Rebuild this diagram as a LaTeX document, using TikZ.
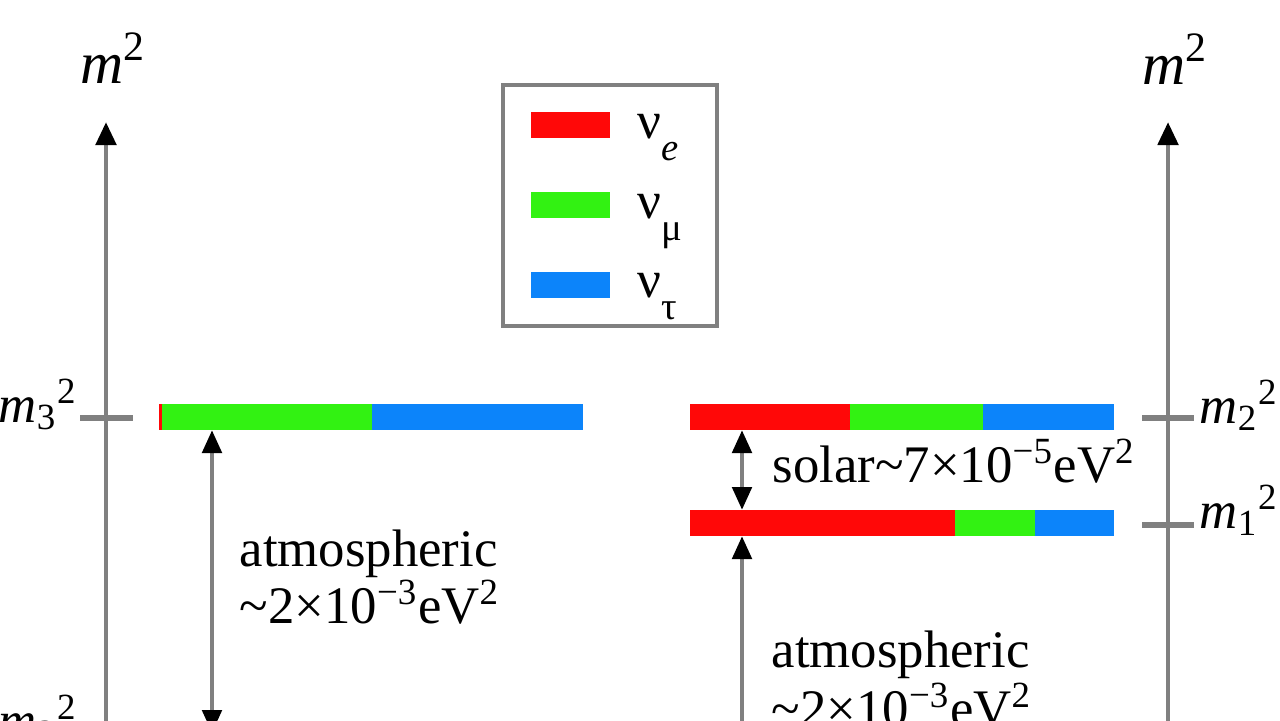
\documentclass[tikz,border=0pt]{standalone}
\usepackage{fontspec}
\setmainfont{Liberation Serif}
\usetikzlibrary{arrows.meta,positioning}

\definecolor{nue}{RGB}{255,8,8}
\definecolor{numu}{RGB}{50,242,18}
\definecolor{nutau}{RGB}{12,132,250}
\definecolor{axisgray}{RGB}{128,128,128}

\newcommand{\msq}[1]{\textit{m}\textsubscript{#1}\textsuperscript{2}}
\newcommand{\flav}[1]{ν\raisebox{-0.42em}{\fontsize{11}{11}\selectfont #1}}

\tikzset{
  seg/.style={minimum height=0.26cm, inner sep=0pt, outer sep=0pt, anchor=west},
  axisline/.style={draw=axisgray, line width=1.4pt, -{Triangle[length=0.23cm,width=0.2cm,black]}},
  tickline/.style={draw=axisgray, line width=1.5pt},
  gap/.style={draw=axisgray, line width=1.4pt,
    {Triangle[length=0.23cm,width=0.19cm,black]}-{Triangle[length=0.23cm,width=0.19cm,black]}},
  lbl/.style={inner sep=0pt, anchor=base west, font=\fontsize{15}{18}\selectfont},
}

\begin{document}
\begin{tikzpicture}[x=0.01cm, y=-0.01cm]
	\useasboundingbox (0,0) rectangle (1280,720);
	\clip (0,0) rectangle (1280,720);
	% Axes:
	\coordinate (laxbot) at (106,800);
	\coordinate (laxtop) at (106,122);
	\coordinate (raxbot) at (1168,800);
	\coordinate (raxtop) at (1168,122);
	\draw[axisline] (laxbot) -- (laxtop);
	\draw[axisline] (raxbot) -- (raxtop);
	\node[inner sep=0pt, anchor=base west, font=\fontsize{17}{20}\selectfont] (lm) at (80,83) {\textit{m}\textsuperscript{2}};
	\node[inner sep=0pt, anchor=base west, font=\fontsize{17}{20}\selectfont] (rm) at (1142,84) {\textit{m}\textsuperscript{2}};
	% Legend:
	\node[draw=axisgray, line width=1.2pt, minimum width=2.14cm, minimum height=2.41cm] (legend) at (610,205.5) {};
	\node[seg, fill=nue, minimum width=0.79cm] (keye) at (531,125) {};
	\node[seg, fill=numu, minimum width=0.79cm] (keymu) at (531,205) {};
	\node[seg, fill=nutau, minimum width=0.79cm] (keytau) at (531,284.5) {};
	\node[lbl] (txte) at (637,138) {\flav{\textit{e}}};
	\node[lbl] (txtmu) at (637,218) {\flav{μ}};
	\node[lbl] (txttau) at (637,297) {\flav{τ}};
	% Left levels:
	\node[seg, fill=nue, minimum width=0.03cm] (m3e) at (159,417) {};
	\node[seg, fill=numu, minimum width=2.10cm, right=0pt of m3e] (m3mu) {};
	\node[seg, fill=nutau, minimum width=2.11cm, right=0pt of m3mu] (m3tau) {};
	\coordinate (lt3a) at (80,418);
	\coordinate (lt3b) at (133,418);
	\draw[tickline] (lt3a) -- (lt3b);
	\node[inner sep=0pt, anchor=base east, font=\fontsize{15}{18}\selectfont] (lm3) at (78,422) {\msq{3}};
	\node[inner sep=0pt, anchor=base east, font=\fontsize{15}{18}\selectfont] (lm2) at (78,738) {\msq{2}};
	\coordinate (atmlbot) at (212,733);
	\draw[gap] (m3mu.south -| atmlbot) -- (atmlbot);
	\node[lbl] (atml1) at (239,566) {atmospheric};
	\node[lbl] (atml2) at (239,623) {\textasciitilde 2×10\textsuperscript{−3}eV\textsuperscript{2}};
	% Right levels:
	\node[seg, fill=nue, minimum width=1.60cm] (m2e) at (690,417) {};
	\node[seg, fill=numu, minimum width=1.33cm, right=0pt of m2e] (m2mu) {};
	\node[seg, fill=nutau, minimum width=1.31cm, right=0pt of m2mu] (m2tau) {};
	\node[seg, fill=nue, minimum width=2.65cm] (m1e) at (690,523) {};
	\node[seg, fill=numu, minimum width=0.80cm, right=0pt of m1e] (m1mu) {};
	\node[seg, fill=nutau, minimum width=0.79cm, right=0pt of m1mu] (m1tau) {};
	\coordinate (rt2a) at (1142,418);
	\coordinate (rt2b) at (1194,418);
	\coordinate (rt1a) at (1142,525);
	\coordinate (rt1b) at (1194,525);
	\draw[tickline] (rt2a) -- (rt2b);
	\draw[tickline] (rt1a) -- (rt1b);
	\node[inner sep=0pt, anchor=base west, font=\fontsize{15}{18}\selectfont] (rm2) at (1199,423) {\msq{2}};
	\node[inner sep=0pt, anchor=base west, font=\fontsize{15}{18}\selectfont] (rm1) at (1199,528) {\msq{1}};
	\coordinate (solx) at (742,0);
	\coordinate (atmrbot) at (742,840);
	\draw[gap] (m2e.south -| solx) -- (m1e.north -| solx);
	\draw[gap] (m1e.south -| solx) -- (atmrbot);
	\node[lbl] (sol) at (772,482) {solar\textasciitilde 7×10\textsuperscript{−5}eV\textsuperscript{2}};
	\node[lbl] (atmr1) at (771,667) {atmospheric};
	\node[lbl] (atmr2) at (771,726) {\textasciitilde 2×10\textsuperscript{−3}eV\textsuperscript{2}};
\end{tikzpicture}
\end{document}
